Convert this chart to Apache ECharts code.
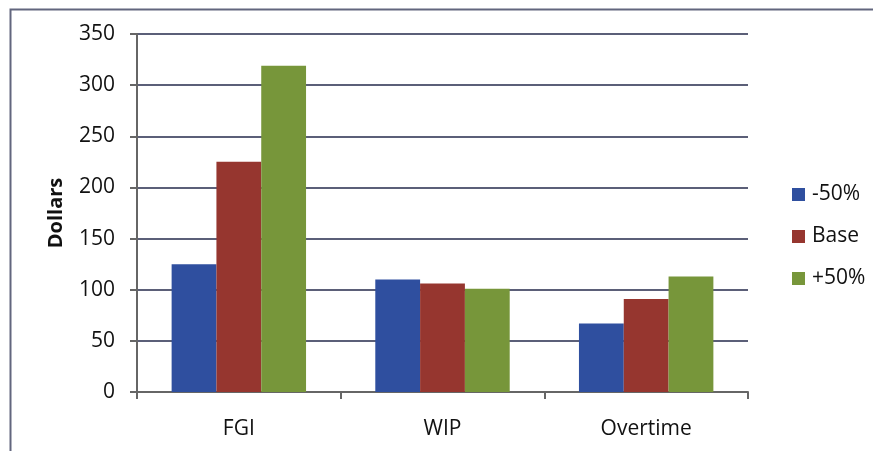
<!DOCTYPE html>
<html>
<head>
<meta charset="utf-8">
<script src="https://cdn.jsdelivr.net/npm/echarts@6/dist/echarts.min.js"></script>
<style>html,body{margin:0;padding:0;background:#fff;}#c{width:873px;height:451px;}</style>
</head>
<body>
<div id="c"></div>
<script>
const categories = ['FGI', 'WIP', 'Overtime'];
const seriesNames = ['-50%', 'Base', '+50%'];
const minus50 = [125, 110, 67];
const base = [225, 106, 91];
const plus50 = [319, 101, 113];
const yTicks = { min: 0, max: 350, interval: 50 };
const colors = ['#2f4f9f', '#96362f', '#77963a'];

const chart = echarts.init(document.getElementById('c'), null, { renderer: 'canvas' });
const font = '"Open Sans", Lato, sans-serif';
chart.setOption({
  animation: false,
  backgroundColor: '#fff',
  graphic: [{
    type: 'rect', left: 8, top: 7, shape: { width: 1000, height: 600 },
    style: { fill: 'none', stroke: '#62667e', lineWidth: 2 }, z: -1
  }],
  grid: { left: 137, right: 125, top: 34, bottom: 59 },
  legend: {
    orient: 'vertical', left: 787, top: 179,
    itemWidth: 13, itemHeight: 13, itemGap: 21,
    icon: 'rect',
    textStyle: { fontFamily: font, fontSize: 21, lineHeight: 21, color: '#111', padding: [0, 0, 0, 2] },
    data: seriesNames
  },
  xAxis: {
    type: 'category', data: categories,
    axisLine: { lineStyle: { color: '#666', width: 2 } },
    axisTick: { show: true, length: 7, lineStyle: { color: '#666', width: 2 } },
    axisLabel: { fontFamily: font, fontSize: 21, color: '#111', margin: 27 }
  },
  yAxis: {
    type: 'value', min: yTicks.min, max: yTicks.max, interval: yTicks.interval,
    name: 'Dollars', nameLocation: 'middle', nameGap: 71, nameRotate: 90,
    nameTextStyle: { fontFamily: font, fontSize: 20, fontWeight: 'bold', color: '#111' },
    axisLine: { show: true, lineStyle: { color: '#666', width: 2 } },
    axisTick: { show: true, length: 7, lineStyle: { color: '#666', width: 2 } },
    axisLabel: { fontFamily: font, fontSize: 21, color: '#111', margin: 22 },
    splitLine: { lineStyle: { color: '#5b5f78', width: 2 } }
  },
  series: [
    { name: seriesNames[0], type: 'bar', data: minus50, itemStyle: { color: colors[0] }, barGap: '0%', barCategoryGap: '34%' },
    { name: seriesNames[1], type: 'bar', data: base, itemStyle: { color: colors[1] }, barGap: '0%', barCategoryGap: '34%' },
    { name: seriesNames[2], type: 'bar', data: plus50, itemStyle: { color: colors[2] }, barGap: '0%', barCategoryGap: '34%' }
  ]
});
</script>
</body>
</html>
